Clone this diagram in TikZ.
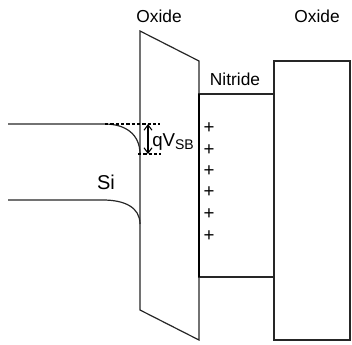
\documentclass[tikz,border=0pt]{standalone}
\usepackage{fontspec}
\setmainfont{Liberation Sans}
\usetikzlibrary{arrows.meta}
\begin{document}
\begin{tikzpicture}[x=0.75pt,y=-0.75pt,
  band/.style={line width=0.9pt,draw=black!85},
  dashline/.style={line width=0.8pt,dashed,dash pattern=on 2.5pt off 1.5pt},
  lbl/.style={font=\fontsize{13}{15}\selectfont,inner sep=0pt},
  plus/.style={font=\fontsize{14}{16}\selectfont,inner sep=0pt}]
\useasboundingbox (0,0) rectangle (352,344);
% oxide 1 trapezoid
\coordinate (o1a) at (140,31);
\coordinate (o1b) at (199,61);
\coordinate (o1c) at (199,340);
\coordinate (o1d) at (140,310);
\draw[band] (o1a) -- (o1b) -- (o1c) -- (o1d) -- cycle;
% nitride
\coordinate (n1) at (199,94);
\coordinate (n2) at (274,277);
\draw[band] (n1) rectangle (n2);
\draw[line width=1.4pt] (199,94) -- (199,277);
% oxide 2
\coordinate (o2a) at (274,61);
\coordinate (o2b) at (350,340);
\draw[band] (o2a) rectangle (o2b);
% silicon bands
\coordinate (cb0) at (8,124);
\coordinate (cb1) at (105,124);
\coordinate (cb2) at (140,154);
\draw[band] (cb0) -- (cb1) .. controls (125,124) and (140,134) .. (cb2);
\coordinate (vb0) at (8,200);
\coordinate (vb1) at (103,200);
\coordinate (vb2) at (140,224);
\draw[band] (vb0) -- (vb1) .. controls (124,200) and (140,207) .. (vb2);
% dashed
\coordinate (d1) at (160,124);
\coordinate (d2a) at (138,154);
\coordinate (d2b) at (161,154);
\draw[dashline] (cb1) -- (d1);
\draw[dashline] (d2a) -- (d2b);
% arrow
\coordinate (a1) at (148,124);
\coordinate (a2) at (148,154);
\draw[line width=0.8pt,{Straight Barb[length=4pt,width=6pt]}-{Straight Barb[length=4pt,width=6pt]}] (a1) -- (a2);
% labels
\node[lbl] (ox1) at (159,16) {Oxide};
\node[lbl] (ox2) at (317,16) {Oxide};
\node[lbl] (nit) at (235,79) {Nitride};
\node[lbl,font=\fontsize{15}{17}\selectfont] (si) at (106,182) {Si};
\node[anchor=base west,inner sep=0pt,font=\fontsize{14}{16}\selectfont] (qv) at (152,146) {qV\textsubscript{\fontsize{10.5}{12}\selectfont SB}};
% charges
\foreach \y [count=\i] in {128,150,171,192,214,236}
  \node[plus] (p\i) at (209,\y) {+};
\end{tikzpicture}
\end{document}
